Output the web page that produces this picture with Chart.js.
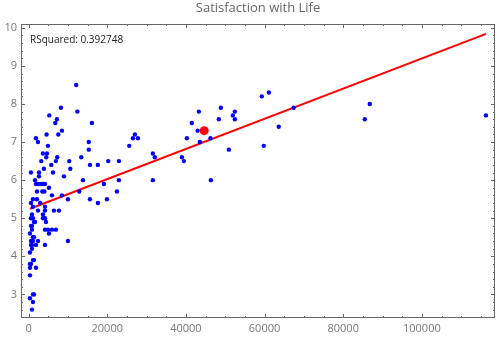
<!DOCTYPE html>
<html lang="en">
<head>
    <meta charset="UTF-8" />
    <title>Satisfaction with Life</title>
    <script src="https://cdn.jsdelivr.net/npm/chart.js"></script>
    <style>
        body {
            margin: 0;
            background: #fff;
        }
        .chart-box {
            width: 500px;
            height: 339px;
        }
    </style>
</head>
<body>
    <div class="chart-box"><canvas id="lifeChart"></canvas></div>

    <script>
        // GDP per capita (x) and life satisfaction score (y), one entry per country
        const gdpPerCapita = [
            12100, 12400, 5260, 8230, 7210, 6790, 4580, 8480, 7550, 16100,
            1870, 2380, 4920, 3650, 4670, 3230, 4500, 5770, 3900, 7290,
            6950, 10340, 10600, 13400, 15300, 15300, 15600, 17600, 20250, 22970,
            25590, 26530, 27030, 27800, 31600, 32100, 38980, 39500, 40250, 41500,
            43300, 43000, 43550, 46250, 48380, 48890, 50930, 51940, 52450, 52450,
            59300, 61100, 67400, 63600, 59800, 85500, 86760, 116300, 31600, 46350,
            22970, 13820, 19150, 22460, 12880, 15600, 17630, 19920, 10010, 8480,
            8990, 7720, 6450, 5950, 6200, 5180, 2640, 2640, 610, 1630,
            1880, 2390, 3150, 3660, 4170, 2130, 3490, 4000, 2950, 1110,
            2130, 610, 1110, 2390, 4170, 4170, 3650, 860, 610, 1110,
            1370, 1630, 3650, 4170, 4420, 860, 610, 860, 4170, 4920,
            5950, 6960, 5180, 350, 1110, 1370, 610, 1110, 2390, 10010,
            610, 860, 1880, 4170, 860, 350, 1110, 1370, 350, 610,
            350, 1880, 350, 1110, 1370, 350, 1110, 860
        ];
        const satisfaction = [
            8.5, 7.8, 7.7, 7.9, 7.6, 7.5, 7.2, 7.3, 7.2, 7.5,
            7.1, 7.0, 6.9, 6.7, 6.7, 6.5, 6.6, 6.4, 6.3, 6.6,
            6.5, 6.5, 6.3, 6.6, 7.0, 6.8, 6.4, 6.4, 6.5, 6.5,
            6.9, 7.1, 7.2, 7.1, 6.7, 6.6, 6.6, 6.5, 7.1, 7.5,
            7.8, 7.3, 7.0, 7.1, 7.6, 7.9, 6.8, 7.7, 7.8, 7.6,
            8.2, 8.3, 7.9, 7.4, 6.9, 7.6, 8.0, 7.7, 6.0, 6.0,
            6.0, 6.0, 5.9, 5.7, 5.7, 5.5, 5.4, 5.5, 5.5, 5.6,
            6.1, 5.2, 5.2, 5.6, 6.2, 5.8, 6.2, 6.1, 6.2, 6.0,
            5.9, 5.9, 5.9, 5.9, 5.9, 5.7, 5.7, 5.7, 5.4, 5.5,
            5.5, 5.4, 5.3, 5.2, 5.3, 5.2, 5.1, 5.1, 5.0, 5.0,
            4.9, 4.9, 5.0, 5.0, 4.9, 4.8, 4.8, 4.7, 4.7, 4.7,
            4.7, 4.7, 4.6, 4.6, 4.5, 4.5, 4.4, 4.4, 4.4, 4.4,
            4.3, 4.3, 4.3, 4.3, 4.2, 4.1, 3.9, 3.9, 3.8, 3.8,
            3.7, 3.7, 3.5, 3.0, 3.0, 2.9, 2.8, 2.6
        ];

        // highlighted country
        const highlightX = [44650];
        const highlightY = [7.3];

        // fitted line end points
        const fitX = [350, 116300];
        const fitY = [5.25, 9.84];
        const rSquared = "0.392748";

        const xTickValues = [0, 20000, 40000, 60000, 80000, 100000];
        const yTickValues = [3, 4, 5, 6, 7, 8, 9, 10];

        const toPoints = (xs, ys) => xs.map((x, i) => ({ x: x, y: ys[i] }));

        // frame around the plot with inward ticks, plus title and fit label
        const frameAndLabels = {
            id: "frameAndLabels",
            afterDraw(chart) {
                const { ctx, chartArea: a, scales } = chart;
                const xs = scales.x, ys = scales.y;
                ctx.save();
                ctx.strokeStyle = "#666";
                ctx.lineWidth = 1;
                ctx.strokeRect(a.left + 0.5, a.top + 0.5, a.width - 1, a.height - 1);

                ctx.beginPath();
                for (let v = 0; v <= xs.max; v += 5000) {
                    const px = Math.round(xs.getPixelForValue(v)) + 0.5;
                    const len = v % 20000 === 0 ? 4 : 2;
                    ctx.moveTo(px, a.bottom);
                    ctx.lineTo(px, a.bottom - len);
                    ctx.moveTo(px, a.top);
                    ctx.lineTo(px, a.top + len);
                }
                for (let i = 12; i <= 50; i++) {
                    const v = i / 5;
                    const py = Math.round(ys.getPixelForValue(v)) + 0.5;
                    const len = i % 5 === 0 ? 4 : 2;
                    ctx.moveTo(a.left, py);
                    ctx.lineTo(a.left + len, py);
                    ctx.moveTo(a.right, py);
                    ctx.lineTo(a.right - len, py);
                }
                ctx.stroke();

                ctx.fillStyle = "#666";
                ctx.font = "13px 'Open Sans'";
                ctx.textAlign = "center";
                ctx.textBaseline = "middle";
                ctx.fillText("Satisfaction with Life", (a.left + a.right) / 2, 8);

                ctx.fillStyle = "#222";
                ctx.font = "10px 'Open Sans'";
                ctx.textAlign = "left";
                ctx.fillText("RSquared: " + rSquared, 30, 40);
                ctx.restore();
            }
        };

        new Chart(document.getElementById("lifeChart"), {
            type: "scatter",
            data: {
                datasets: [
                    {
                        data: toPoints(gdpPerCapita, satisfaction),
                        backgroundColor: "#0000ff",
                        borderWidth: 0,
                        pointRadius: 2.2,
                    },
                    {
                        data: toPoints(fitX, fitY),
                        showLine: true,
                        borderColor: "#ff0000",
                        borderWidth: 2,
                        pointRadius: 0,
                    },
                    {
                        data: toPoints(highlightX, highlightY),
                        backgroundColor: "#ff0000",
                        borderWidth: 0,
                        pointRadius: 4.5,
                    },
                ],
            },
            options: {
                responsive: true,
                maintainAspectRatio: false,
                animation: false,
                layout: { padding: { top: 24, right: 5, left: 0, bottom: 0 } },
                plugins: {
                    legend: { display: false },
                    tooltip: { enabled: false },
                },
                scales: {
                    x: {
                        type: "linear",
                        min: -1930,
                        max: 118600,
                        grid: { display: false, drawTicks: false },
                        border: { display: false },
                        afterBuildTicks: (s) => { s.ticks = xTickValues.map((v) => ({ value: v })); },
                        afterFit: (s) => { s.height = 21; },
                        ticks: {
                            color: "#777",
                            padding: 4,
                            maxRotation: 0,
                            autoSkip: false,
                            font: { family: "'Open Sans'", size: 11 },
                            callback: (v) => String(v),
                        },
                    },
                    y: {
                        min: 2.38,
                        max: 10.1,
                        grid: { display: false, drawTicks: false },
                        border: { display: false },
                        afterBuildTicks: (s) => { s.ticks = yTickValues.map((v) => ({ value: v })); },
                        afterFit: (s) => { s.width = 21; },
                        ticks: {
                            color: "#777",
                            padding: 4,
                            autoSkip: false,
                            font: { family: "'Open Sans'", size: 11 },
                            callback: (v) => String(v),
                        },
                    },
                },
            },
            plugins: [frameAndLabels],
        });
    </script>
</body>
</html>
